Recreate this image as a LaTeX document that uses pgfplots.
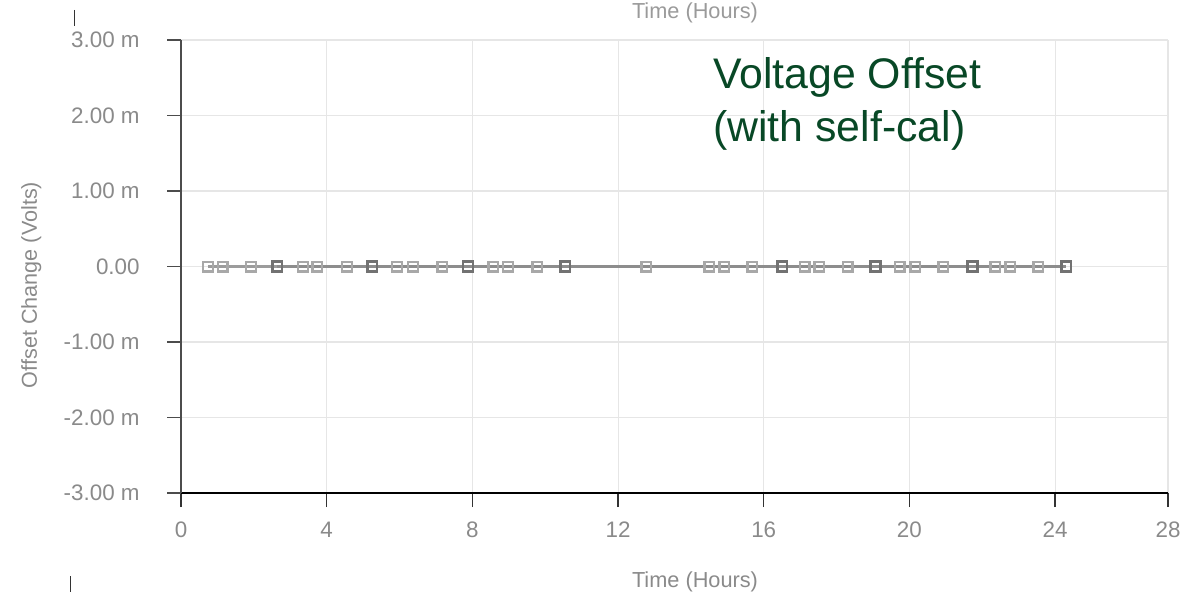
\documentclass[border=0pt]{standalone}
\usepackage{pgfplots}
\pgfplotsset{compat=1.18}
\usepackage{fontspec}
\setmainfont{Liberation Sans}
\definecolor{tickgray}{HTML}{8A8A8A}
\definecolor{titlegray}{HTML}{9A9A9A}
\definecolor{gridgray}{HTML}{E6E6E6}
\definecolor{annogreen}{RGB}{8,72,38}
\definecolor{lightmk}{HTML}{A8A8A8}
\definecolor{darkmk}{HTML}{727272}
\definecolor{linegray}{HTML}{9C9C9C}
\begin{document}
\begin{tikzpicture}[x=1pt,y=1pt]
\useasboundingbox (0,0) rectangle (885,444.75);
\begin{axis}[
  at={(135.75pt,75pt)}, anchor=south west,
  scale only axis, width=740.25pt, height=339.75pt,
  xmin=0, xmax=27.1, ymin=-3, ymax=3,
  axis x line=bottom, axis y line=left,
  axis line style={-},
  x axis line style={black, line width=1.1pt},
  y axis line style={black!70, line width=1.4pt},
  xtick={0,4,8,12,16,20,24,27.1},
  xticklabels={0,4,8,12,16,20,24,28},
  ytick={-3,-2,-1,0,1,2,3},
  yticklabels={-3.00 m,-2.00 m,-1.00 m,0.00,1.00 m,2.00 m,3.00 m},
  tick align=outside,
  major tick length=10.5pt,
  x tick style={black!80, line width=1pt},
  y tick style={black!70, line width=1.4pt},
  tick label style={font=\fontsize{16.8}{20}\selectfont, text=tickgray},
  yticklabel style={anchor=east, xshift=-17pt},
  xticklabel style={anchor=base, yshift=-23pt},
  grid=major,
  grid style={gridgray, line width=0.8pt},
  clip=false,
]
\addplot[linegray, line width=2pt, mark=square, mark size=3.6pt,
  mark options={draw=lightmk, fill=white, line width=1.8pt, solid}]
  coordinates {
  (0.74,0) (1.15,0) (1.92,0) (3.35,0) (3.74,0) (4.56,0) (5.93,0) (6.37,0)
  (7.17,0) (8.57,0) (8.98,0) (9.78,0) (12.77,0) (14.50,0) (14.92,0) (15.69,0)
  (17.12,0) (17.53,0) (18.30,0) (19.73,0) (20.16,0) (20.93,0) (22.36,0)
  (22.77,0) (23.54,0)
  };
\addplot[linegray!90!black, line width=2pt, mark=square, mark size=3.6pt,
  mark options={draw=darkmk, fill=white, line width=1.9pt, solid}]
  coordinates {
  (2.64,0) (5.25,0) (7.88,0) (10.55,0) (16.51,0) (19.07,0) (21.73,0) (24.31,0)
  };
\end{axis}
\node[anchor=base, text=titlegray, font=\fontsize{16.3}{19}\selectfont] at (521.25,430.5) {Time (Hours)};
\node[anchor=base, text=tickgray, font=\fontsize{16.3}{19}\selectfont] at (521.25,4.5) {Time (Hours)};
\node[anchor=base, rotate=90, text=tickgray, font=\fontsize{16.2}{19}\selectfont] at (27.75,231) {Offset Change (Volts)};
\node[anchor=base west, text=annogreen, inner sep=0pt, font=\fontsize{32.1}{36}\selectfont] at (534.75,378) {Voltage Offset};
\node[anchor=base west, text=annogreen, inner sep=0pt, font=\fontsize{32.1}{36}\selectfont] at (534.75,338.25) {(with self-cal)};
\draw[black!80, line width=1pt] (56,437.25) -- (56,425.25);
\draw[black!80, line width=1pt] (53,12.75) -- (53,0.75);
\end{tikzpicture}
\end{document}
